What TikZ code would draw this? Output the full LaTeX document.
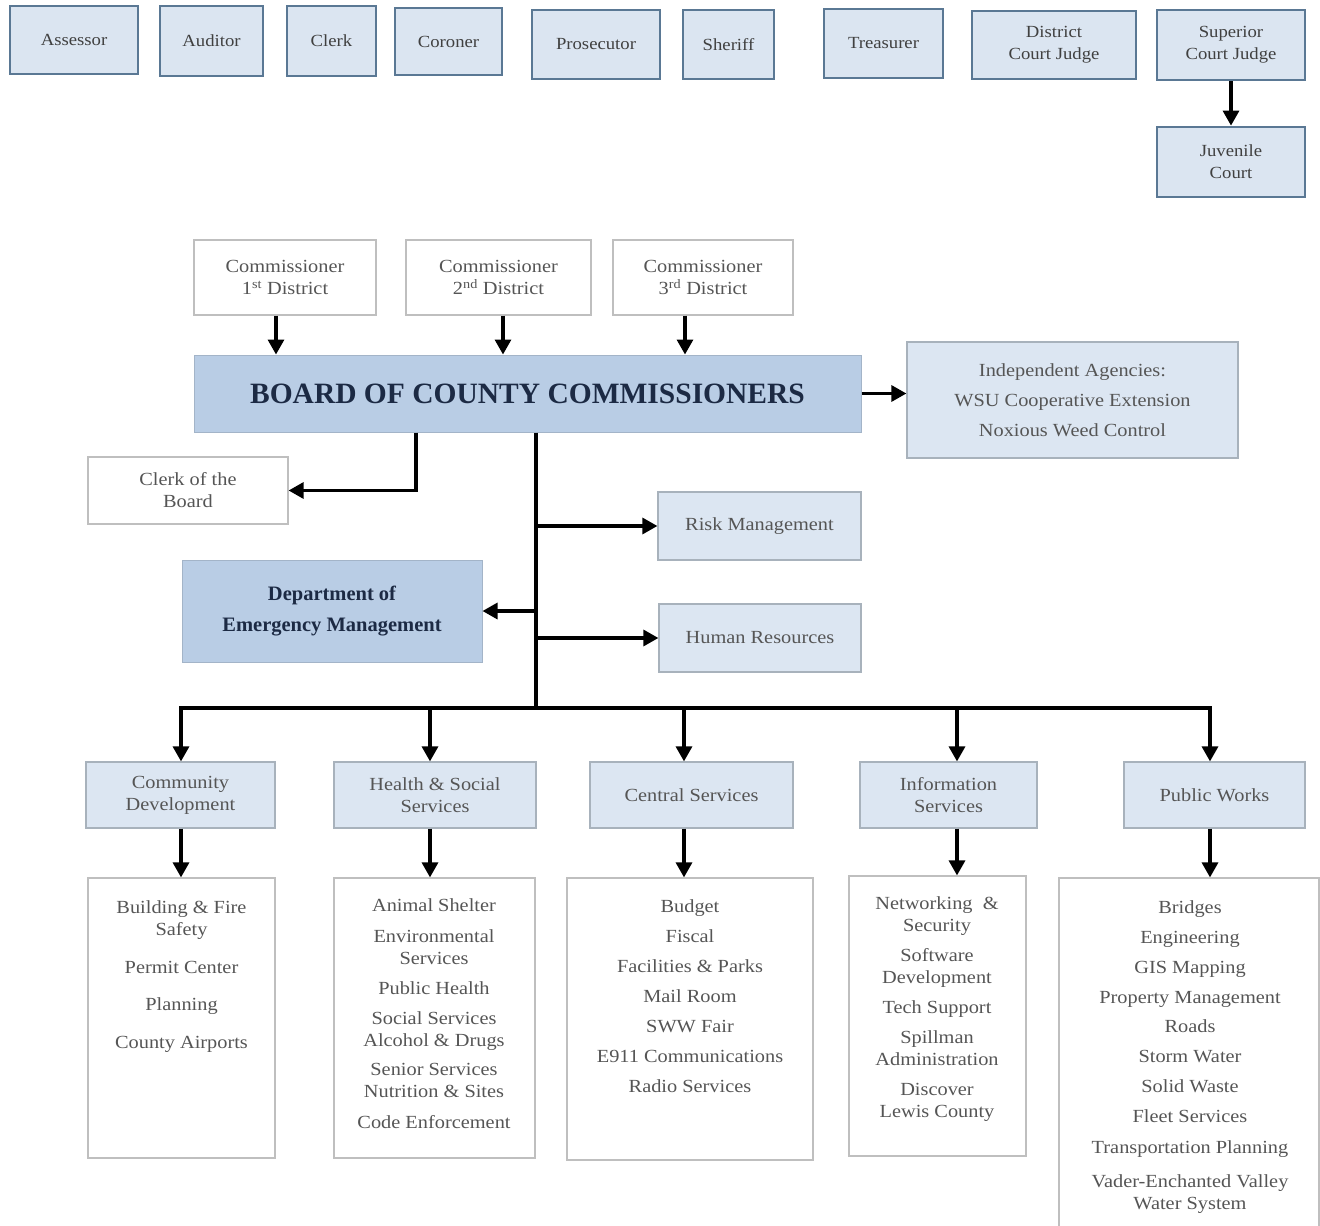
\documentclass[tikz,border=0pt]{standalone}
\usepackage{fontspec}
\setmainfont[FakeStretch=1.1]{Liberation Serif}
\newfontfamily\plainserif{Liberation Serif}
\usetikzlibrary{arrows.meta,calc}
\definecolor{topfill}{HTML}{DBE5F1}
\definecolor{topdraw}{HTML}{5A7894}
\definecolor{lightfill}{HTML}{DCE6F2}
\definecolor{ldraw}{HTML}{A8B2BC}
\definecolor{wdraw}{HTML}{BFBFBF}
\definecolor{midfill}{HTML}{B9CDE5}
\definecolor{mdraw}{HTML}{A3B4C8}
\definecolor{txt}{HTML}{555555}
\definecolor{toptxt}{HTML}{404040}
\definecolor{navy}{HTML}{1C2A44}
\newcommand\fsz[2]{\fontsize{#1}{#2}\selectfont}
\begin{document}
\begin{tikzpicture}[x=1pt,y=-1pt,
  base/.style={inner sep=0pt, align=center, text=txt, font=\fsz{18.5}{22}},
  topbox/.style={base, fill=topfill, draw=topdraw, line width=2.8pt, font=\fsz{17}{22}, text=toptxt},
  whitebox/.style={base, fill=white, draw=wdraw, line width=1.2pt},
  lightbox/.style={base, fill=lightfill, draw=ldraw, line width=1.2pt},
  midbox/.style={base, fill=midfill, draw=mdraw, line width=1pt, text=navy},
  listtxt/.style={inner sep=0pt, align=center, text=txt, font=\fsz{18.5}{22}},
  arr/.style={line width=3.2pt, -{Triangle[length=15pt,width=16pt]}},
  ln/.style={line width=3.2pt}]
\useasboundingbox (0,0) rectangle (1320,1226);
\fill[white] (0,0) rectangle (1320,1226);

% top row of elected officials
\node[topbox, minimum width=128, minimum height=68] (ass) at (74,40) {Assessor};
\node[topbox, minimum width=103, minimum height=70] (aud) at (211.5,41) {Auditor};
\node[topbox, minimum width=89, minimum height=70] (clk) at (331.5,41) {Clerk};
\node[topbox, minimum width=107, minimum height=67] (cor) at (448.5,41.5) {Coroner};
\node[topbox, minimum width=128, minimum height=69] (pro) at (596,44.5) {Prosecutor};
\node[topbox, minimum width=91, minimum height=69] (she) at (728.5,44.5) {Sheriff};
\node[topbox, minimum width=119, minimum height=69] (tre) at (883.5,43.5) {Treasurer};
\node[topbox, minimum width=164, minimum height=68] (dcj) at (1054,45) {District\\Court Judge};
\node[topbox, minimum width=148, minimum height=70] (scj) at (1231,45) {Superior\\Court Judge};
\node[topbox, minimum width=148, minimum height=70] (juv) at (1231,162) {Juvenile\\Court};
\draw[arr] (scj.south) -- (juv.north);

% commissioners
\node[whitebox, minimum width=182, minimum height=75] (c1) at (285,277.5) {Commissioner\\1\textsuperscript{st} District};
\node[whitebox, minimum width=185, minimum height=75] (c2) at (498.5,277.5) {Commissioner\\2\textsuperscript{nd} District};
\node[whitebox, minimum width=180, minimum height=75] (c3) at (703,277.5) {Commissioner\\3\textsuperscript{rd} District};

\node[midbox, minimum width=667, minimum height=77, font=\plainserif\bfseries\fsz{29.5}{34}] (board) at (527.5,393.5) {BOARD OF COUNTY COMMISSIONERS};

\coordinate (xa) at (276,0);
\coordinate (xb) at (503,0);
\coordinate (xc) at (685,0);
\draw[arr] (xa |- c1.south) -- (xa |- board.north);
\draw[arr] (xb |- c2.south) -- (xb |- board.north);
\draw[arr] (xc |- c3.south) -- (xc |- board.north);

\node[lightbox, minimum width=331, minimum height=116] (ind) at (1072.5,400) {Independent Agencies:\\[8pt]WSU Cooperative Extension\\[8pt]Noxious Weed Control};
\draw[arr] (board.east) -- (board.east -| ind.west);

\node[whitebox, minimum width=200, minimum height=67] (cob) at (188,490.5) {Clerk of the\\Board};
\coordinate (xk) at (416,0);
\draw[arr] (xk |- board.south) |- (cob.east);

% trunk
\coordinate (trunk) at (536,0);
\coordinate (bus) at (536,708);
\draw[ln] (trunk |- board.south) -- (bus);

\node[lightbox, minimum width=203, minimum height=68] (risk) at (759.5,526) {Risk Management};
\node[midbox, minimum width=300, minimum height=102, font=\plainserif\bfseries\fsz{20.5}{31}] (dem) at (332,611) {Department of\\Emergency Management};
\node[lightbox, minimum width=202, minimum height=68] (hr) at (760,638) {Human Resources};
\draw[arr] (trunk |- risk.west) -- (risk.west);
\draw[arr] (trunk |- dem.east) -- (dem.east);
\draw[arr] (trunk |- hr.west) -- (hr.west);

% second row
\node[lightbox, minimum width=189, minimum height=66] (cd) at (180.5,795) {Community\\Development};
\node[lightbox, minimum width=202, minimum height=66] (hs) at (435,795) {Health \& Social\\Services};
\node[lightbox, minimum width=203, minimum height=66] (cs) at (691.5,795) {Central Services};
\node[lightbox, minimum width=177, minimum height=66] (is) at (948.5,795) {Information\\Services};
\node[lightbox, minimum width=181, minimum height=66] (pw) at (1214.5,795) {Public Works};

\coordinate (x1) at (181,708);
\coordinate (x2) at (430,708);
\coordinate (x3) at (684,708);
\coordinate (x4) at (957,708);
\coordinate (x5) at (1210,708);
\draw[ln, line cap=rect] (x1) -- (x5);
\draw[arr] (x1) -- (x1 |- cd.north);
\draw[arr] (x2) -- (x2 |- hs.north);
\draw[arr] (x3) -- (x3 |- cs.north);
\draw[arr] (x4) -- (x4 |- is.north);
\draw[arr] (x5) -- (x5 |- pw.north);

% third row
\node[whitebox, minimum width=187, minimum height=280] (l1) at (181.5,1018) {};
\node[whitebox, minimum width=201, minimum height=280] (l2) at (434.5,1018) {};
\node[whitebox, minimum width=246, minimum height=282] (l3) at (690,1019) {};
\node[whitebox, minimum width=177, minimum height=280] (l4) at (937.5,1016) {};
\node[whitebox, minimum width=260, minimum height=362] (l5) at (1189,1059) {};

\draw[arr] (x1 |- cd.south) -- (x1 |- l1.north);
\draw[arr] (x2 |- hs.south) -- (x2 |- l2.north);
\draw[arr] (x3 |- cs.south) -- (x3 |- l3.north);
\draw[arr] (x4 |- is.south) -- (x4 |- l4.north);
\draw[arr] (x5 |- pw.south) -- (x5 |- l5.north);

\node[listtxt, anchor=north] (t1) at (181.5,900) {Building \& Fire\\Safety\\[16pt]Permit Center\\[15pt]Planning\\[16pt]County Airports};
\node[listtxt, anchor=north] (t2) at (434,898) {Animal Shelter\\[9pt]Environmental\\Services\\[8pt]Public Health\\[8pt]Social Services\\Alcohol \& Drugs\\[7pt]Senior Services\\Nutrition \& Sites\\[9pt]Code Enforcement};
\node[listtxt, anchor=north] (t3) at (690,899) {Budget\\[8pt]Fiscal\\[8pt]Facilities \& Parks\\[8pt]Mail Room\\[8pt]SWW Fair\\[8pt]E911 Communications\\[8pt]Radio Services};
\node[listtxt, anchor=north] (t4) at (937,896) {Networking \ \&\\Security\\[8pt]Software\\Development\\[8pt]Tech Support\\[8pt]Spillman\\Administration\\[8pt]Discover\\Lewis County};
\node[listtxt, anchor=north] (t5) at (1190,900) {Bridges\\[8pt]Engineering\\[8pt]GIS Mapping\\[8pt]Property Management\\[7pt]Roads\\[8pt]Storm Water\\[8pt]Solid Waste\\[8pt]Fleet Services\\[9pt]Transportation Planning\\[12pt]Vader-Enchanted Valley\\Water System};
\end{tikzpicture}
\end{document}
